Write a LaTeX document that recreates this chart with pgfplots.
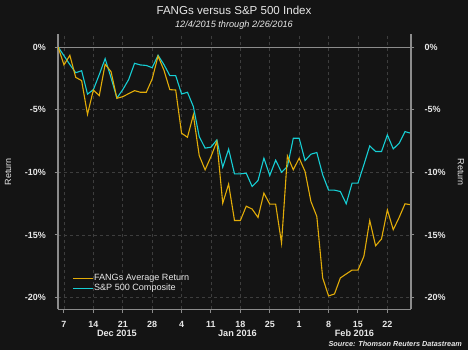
\documentclass[border=0pt]{standalone}
\usepackage{fontspec}
\setmainfont{Liberation Sans}
\usepackage{pgfplots}
\usepackage{pgfplotstable}
\pgfplotsset{compat=1.18}
\definecolor{bg}{RGB}{20,20,20}
\definecolor{txt}{RGB}{232,232,232}
\definecolor{gold}{RGB}{226,172,8}
\definecolor{cyanl}{RGB}{22,206,212}
\definecolor{gridc}{RGB}{62,62,62}
\definecolor{spine}{RGB}{140,140,140}

\pgfplotstableread{
i fang spx
0 0 0
1 -1.43 -0.70
2 -0.66 -1.40
3 -2.42 -2.05
4 -2.68 -1.89
5 -5.37 -3.76
6 -3.43 -3.40
7 -3.88 -2.20
8 -1.38 -0.93
9 -1.96 -2.45
10 -4.09 -4.07
11 -3.96 -3.40
12 -3.72 -2.60
13 -3.48 -1.30
14 -3.61 -1.43
15 -3.61 -1.47
16 -2.55 -1.65
17 -0.72 -0.66
18 -1.85 -1.40
19 -3.40 -2.28
20 -3.43 -2.28
21 -6.88 -3.75
22 -7.20 -3.61
23 -5.42 -4.75
24 -8.66 -7.14
25 -9.80 -8.07
26 -8.74 -7.99
27 -7.54 -7.41
28 -12.46 -9.59
29 -10.94 -8.15
30 -13.84 -10.12
31 -13.84 -10.12
32 -12.70 -10.07
33 -12.93 -11.13
34 -13.60 -10.65
35 -11.66 -8.87
36 -12.54 -10.25
37 -12.54 -9.03
38 -15.64 -9.99
39 -8.69 -9.54
40 -9.80 -7.28
41 -8.87 -7.28
42 -9.93 -9.06
43 -12.33 -8.55
44 -13.52 -8.42
45 -18.43 -10.20
46 -19.86 -11.42
47 -19.71 -11.42
48 -18.43 -11.53
49 -18.11 -12.51
50 -17.80 -10.86
51 -17.80 -10.86
52 -16.71 -9.40
53 -13.84 -7.89
54 -15.86 -8.34
55 -15.32 -8.34
56 -12.99 -7.01
57 -14.58 -8.13
58 -13.60 -7.68
59 -12.51 -6.75
60 -12.59 -6.88
}\data

\begin{document}
\begin{tikzpicture}
\fill[bg] (0,0) rectangle (468bp,350bp);
\begin{axis}[
  at={(58.1bp,40.7bp)}, anchor=south west,
  scale only axis, width=352.8bp, height=275.3bp,
  xmin=0, xmax=60, ymin=-20.93, ymax=1.04,
  clip mode=individual,
  axis x line*=bottom, axis y line*=left,
  axis line style={spine, line width=1.3bp},
  tick style={spine, line width=1bp},
  major tick length=3.5bp,
  tick align=outside,
  xtick={1,6,...,56},
  xticklabels={7,14,21,28,4,11,18,25,1,8,15,22},
  ytick={-20,-15,-10,-5,0},
  yticklabels={-20\%,-15\%,-10\%,-5\%,0\%},
  grid=major,
  major grid style={gridc, line width=0.8bp, dash pattern=on 3bp off 3bp},
  ticklabel style={font=\bfseries\fontsize{9}{10}\selectfont, text=txt},
  xticklabel style={anchor=base, yshift=-14.7bp},
  yticklabel style={anchor=east, inner sep=0pt, xshift=-8.5bp},
  legend style={at={(axis description cs:0.04,0.131)}, anchor=north west,
    draw=none, fill=none, text=txt, font=\fontsize{9.1}{10}\selectfont,
    row sep=0.5bp, inner sep=0pt,
    nodes={inner sep=0.5bp, text height=6.6bp, text depth=1.9bp}},
  legend cell align=left,
  legend image code/.code={\draw[#1, line width=1.2bp] (0bp,0bp) -- (20bp,0bp);},
  reverse legend,
]
\draw[spine, line width=1bp] (axis cs:0,0) -- (axis cs:60,0);
\addplot[cyanl, line width=1.1bp] table[x=i,y=spx]{\data};
\addlegendentry{S\&P 500 Composite}
\addplot[gold, line width=1.1bp] table[x=i,y=fang]{\data};
\addlegendentry{FANGs Average Return}
\node[anchor=base, text=txt, font=\bfseries\fontsize{9.2}{10}\selectfont, yshift=-27.4bp] at (axis cs:10,-20.93) {Dec 2015};
\node[anchor=base, text=txt, font=\bfseries\fontsize{9.2}{10}\selectfont, yshift=-27.4bp] at (axis cs:30.5,-20.93) {Jan 2016};
\node[anchor=base, text=txt, font=\bfseries\fontsize{9.2}{10}\selectfont, yshift=-27.4bp] at (axis cs:50.4,-20.93) {Feb 2016};
\end{axis}
\begin{axis}[
  at={(58.1bp,40.7bp)}, anchor=south west,
  scale only axis, width=352.8bp, height=275.3bp,
  xmin=0, xmax=60, ymin=-20.93, ymax=1.04,
  axis x line=none, axis y line*=right,
  axis line style={spine, line width=1.3bp},
  tick style={spine, line width=1bp},
  major tick length=3.5bp,
  tick align=outside,
  ytick={-20,-15,-10,-5,0},
  yticklabels={-20\%,-15\%,-10\%,-5\%,0\%},
  yticklabel style={anchor=west, inner sep=0pt, xshift=10bp, font=\bfseries\fontsize{9}{10}\selectfont, text=txt},
]
\addplot[draw=none] coordinates {(0,0)};
\end{axis}
\node[anchor=base, text=txt, font=\fontsize{11.6}{13}\selectfont] at (234bp,335.7bp) {FANGs versus S\&P 500 Index};
\node[anchor=base, text=txt, font=\itshape\fontsize{9.2}{11}\selectfont] at (234bp,322.7bp) {12/4/2015 through 2/26/2016};
\node[rotate=90, text=txt, font=\fontsize{9}{10}\selectfont] at (8bp,178bp) {Return};
\node[rotate=-90, text=txt, font=\fontsize{9}{10}\selectfont] at (461bp,178bp) {Return};
\node[anchor=base east, text=txt, font=\bfseries\itshape\fontsize{7.3}{9}\selectfont, inner sep=0pt] at (462bp,3.5bp) {Source: Thomson Reuters Datastream};
\end{tikzpicture}
\end{document}
